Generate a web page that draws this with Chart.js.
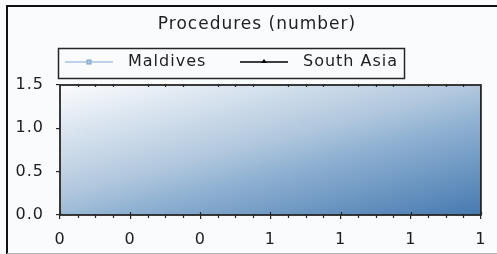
<!DOCTYPE html>
<html>
<head>
<meta charset="utf-8">
<script src="https://cdn.jsdelivr.net/npm/chart.js@4.4.0/dist/chart.umd.min.js"></script>
<style>
  html, body { margin: 0; padding: 0; background: #fafbfd; }
  canvas { display: block; }
</style>
</head>
<body>
<canvas id="chart" width="497" height="254"></canvas>
<script>
const chartTitle = "Procedures (number)";
const seriesNames = ["Maldives", "South Asia"];
const seriesColors = ["#a9c5e2", "#000000"];
// the source chart has no plotted points at all
const maldivesValues = [];
const southAsiaValues = [];
const xRange = [0, 1];
const xTickCount = 7;
const xMinorPerMajor = 4;
const yRange = [0, 1.5];
const yStep = 0.5;

const FONT = "DejaVu Sans";
const INK = "#1e1e1e";

const framePlugin = {
    id: "frame",
    beforeDraw(chart) {
        const ctx = chart.ctx;
        const a = chart.chartArea;
        ctx.save();
        ctx.fillStyle = "#fafbfd";
        ctx.fillRect(0, 0, chart.width, chart.height);
        // slanted shading of the plot area, light top-left to dark bottom-right
        const w = a.right - a.left, h = a.bottom - a.top;
        const dx = 0.25, dy = 0.97;
        const k = w * dx + h * dy;
        const g = ctx.createLinearGradient(a.left, a.top, a.left + k * dx, a.top + k * dy);
        g.addColorStop(0, "#fbfcfe");
        g.addColorStop(0.45, "#b2c8de");
        g.addColorStop(0.6, "#8fb1d2");
        g.addColorStop(1, "#4679b0");
        ctx.fillStyle = g;
        ctx.fillRect(a.left, a.top, w, h);
        ctx.restore();
        ctx.letterSpacing = "1px";
    },
    afterDraw(chart) {
        const ctx = chart.ctx;
        const a = chart.chartArea;
        const xs = chart.scales.x;
        ctx.save();
        ctx.strokeStyle = "#262626";
        ctx.lineWidth = 1.8;
        ctx.strokeRect(a.left, a.top, a.right - a.left, a.bottom - a.top);

        // minor ticks along bottom and top
        const n = (xTickCount - 1) * xMinorPerMajor;
        ctx.lineWidth = 1.2;
        ctx.beginPath();
        for (let i = 0; i <= n; i++) {
            const v = xRange[0] + (xRange[1] - xRange[0]) * i / n;
            const px = Math.round(xs.getPixelForValue(v)) + 0.5;
            if (i % xMinorPerMajor === 0) {
                ctx.moveTo(px, a.bottom - 3);
                ctx.lineTo(px, a.bottom);
            } else {
                ctx.moveTo(px, a.bottom);
                ctx.lineTo(px, a.bottom + 3);
                ctx.moveTo(px, a.top - 1);
                ctx.lineTo(px, a.top + 2);
            }
        }
        ctx.stroke();

        // title
        ctx.fillStyle = INK;
        ctx.font = "17px '" + FONT + "'";
        ctx.textAlign = "center";
        ctx.textBaseline = "middle";
        ctx.fillText(chartTitle, 257, 25);

        // legend box
        const box = { x: 58, y: 48, w: 346, h: 30 };
        ctx.lineWidth = 1.5;
        ctx.strokeStyle = "#262626";
        ctx.strokeRect(box.x + 0.5, box.y + 0.5, box.w, box.h);
        const ly = 62;
        const items = chart.data.datasets;
        const itemX = [65, 240];
        ctx.font = "16px '" + FONT + "'";
        ctx.textAlign = "left";
        items.forEach((ds, i) => {
            const x0 = itemX[i];
            ctx.strokeStyle = ds.borderColor;
            ctx.lineWidth = 1.5;
            ctx.beginPath();
            ctx.moveTo(x0, ly);
            ctx.lineTo(x0 + 48, ly);
            ctx.stroke();
            ctx.fillStyle = ds.borderColor;
            if (i === 0) {
                ctx.fillRect(x0 + 22, ly - 2, 4, 4);
                ctx.strokeStyle = "#7fa3c8";
                ctx.lineWidth = 1;
                ctx.strokeRect(x0 + 22, ly - 2, 4, 4);
            } else {
                ctx.beginPath();
                ctx.moveTo(x0 + 24, ly - 3);
                ctx.lineTo(x0 + 27, ly + 1);
                ctx.lineTo(x0 + 21, ly + 1);
                ctx.closePath();
                ctx.fill();
            }
            ctx.fillStyle = INK;
            ctx.fillText(ds.label, x0 + 63, ly);
        });

        // outer frame
        ctx.strokeStyle = "#111";
        ctx.lineWidth = 2;
        ctx.beginPath();
        ctx.moveTo(7, chart.height);
        ctx.lineTo(7, 6);
        ctx.lineTo(chart.width, 6);
        ctx.stroke();
        ctx.strokeStyle = "#b5b5b5";
        ctx.lineWidth = 1;
        ctx.beginPath();
        ctx.moveTo(7, chart.height - 0.5);
        ctx.lineTo(chart.width, chart.height - 0.5);
        ctx.stroke();
        ctx.restore();
    }
};

const ctx = document.getElementById("chart").getContext("2d");

new Chart(ctx, {
    type: "scatter",
    data: {
        datasets: [
            { label: seriesNames[0], data: maldivesValues, borderColor: seriesColors[0], backgroundColor: seriesColors[0], showLine: true },
            { label: seriesNames[1], data: southAsiaValues, borderColor: seriesColors[1], backgroundColor: seriesColors[1], showLine: true }
        ]
    },
    options: {
        responsive: false,
        animation: false,
        devicePixelRatio: 1,
        layout: { padding: { top: 85, left: 0, right: 8, bottom: 0 } },
        plugins: {
            legend: { display: false },
            title: { display: false },
            tooltip: { enabled: false }
        },
        scales: {
            x: {
                type: "linear",
                min: xRange[0],
                max: xRange[1],
                afterFit: s => { s.height = 39; },
                ticks: {
                    count: xTickCount,
                    maxRotation: 0,
                    autoSkip: false,
                    padding: 11,
                    color: INK,
                    font: { family: FONT, size: 16 },
                    callback: v => Math.round(v)
                },
                grid: { drawOnChartArea: false, tickLength: 4, color: "#262626", lineWidth: 1.2 },
                border: { display: false }
            },
            y: {
                min: yRange[0],
                max: yRange[1],
                afterFit: s => { s.width = 60; },
                ticks: {
                    stepSize: yStep,
                    padding: 12,
                    color: INK,
                    font: { family: FONT, size: 16 },
                    callback: v => v.toFixed(1)
                },
                grid: { drawOnChartArea: false, tickLength: 4, color: "#262626", lineWidth: 1.2 },
                border: { display: false }
            }
        }
    },
    plugins: [framePlugin]
});
</script>
</body>
</html>
